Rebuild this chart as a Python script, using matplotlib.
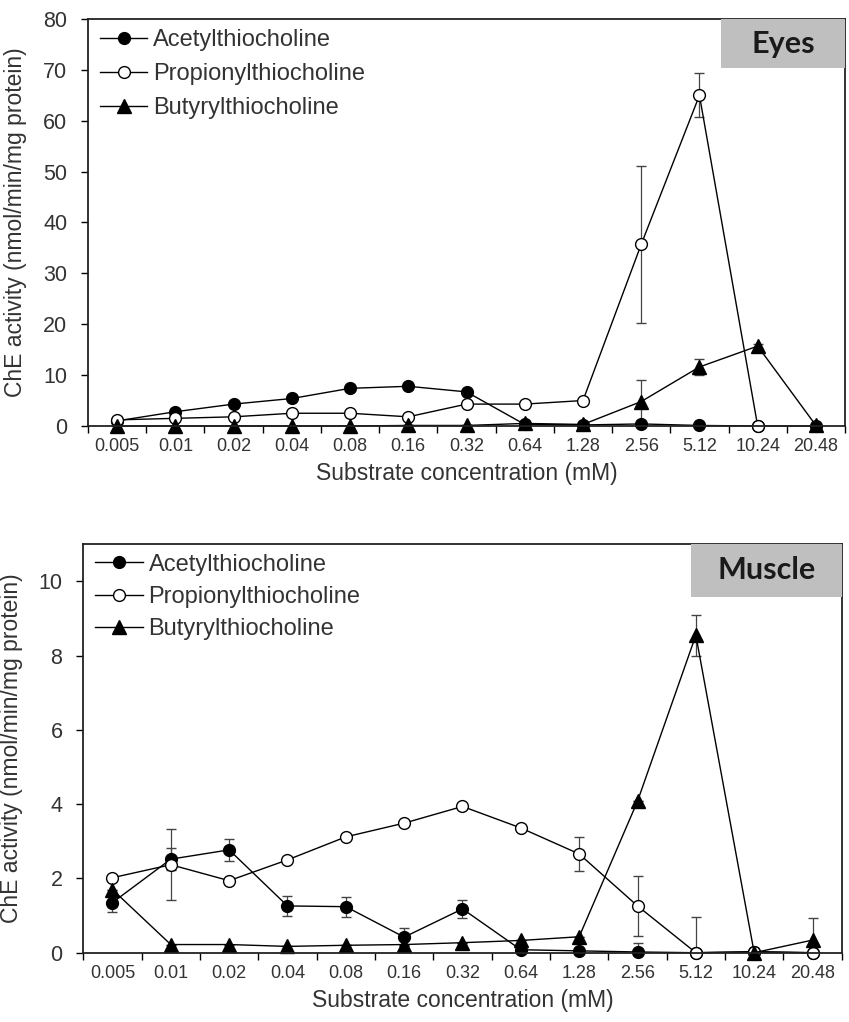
import numpy as np
import matplotlib
matplotlib.use('Agg')
import matplotlib.pyplot as plt
from matplotlib.patches import Rectangle
from matplotlib.lines import Line2D

plt.rcParams['font.family'] = ['Liberation Sans', 'DejaVu Sans']

concentrations = ['0.005', '0.01', '0.02', '0.04', '0.08', '0.16', '0.32',
                  '0.64', '1.28', '2.56', '5.12', '10.24', '20.48']

# Eyes
eyes_acetyl = [1.0, 2.8, 4.3, 5.4, 7.4, 7.8, 6.7, 0.3, 0.2, 0.4, 0.1, 0.0, 0.0]
eyes_acetyl_err = [0, 0, 0, 0, 0, 0, 0, 0, 0, 0, 0, 0, 0]
eyes_propionyl = [1.2, 1.5, 1.8, 2.5, 2.5, 1.8, 4.3, 4.3, 5.0, 35.7, 65.0, 0.0, np.nan]
eyes_propionyl_err = [0, 0, 0, 0, 0, 0, 0, 0, 0, 15.5, 4.3, 0, 0]
eyes_butyryl = [0.0, 0.0, 0.0, 0.0, 0.0, 0.1, 0.1, 0.5, 0.3, 4.8, 11.6, 15.7, 0.1]
eyes_butyryl_err = [0, 0, 0, 0, 0, 0, 0, 0, 0, 4.2, 1.5, 0.5, 0]

# Muscle
muscle_acetyl = [1.35, 2.52, 2.77, 1.26, 1.24, 0.42, 1.18, 0.08, 0.05, 0.02, 0.0, 0.02, 0.0]
muscle_acetyl_err = [0.25, 0.3, 0.3, 0.28, 0.27, 0.25, 0.25, 0, 0, 0.25, 0, 0.1, 0]
muscle_propionyl = [2.02, 2.37, 1.94, 2.50, 3.12, 3.49, 3.94, 3.36, 2.66, 1.26, 0.0, 0.03, 0.0]
muscle_propionyl_err = [0, 0.95, 0, 0, 0, 0, 0, 0, 0.47, 0.8, 0.95, 0, 0]
muscle_butyryl = [1.70, 0.22, 0.22, 0.17, 0.20, 0.22, 0.27, 0.33, 0.43, 4.08, 8.55, 0.0, 0.34]
muscle_butyryl_err = [0, 0, 0, 0, 0, 0, 0, 0, 0, 0, 0.55, 0.1, 0.6]

labels = ['Acetylthiocholine', 'Propionylthiocholine', 'Butyrylthiocholine']
text_color = '#333333'


def draw_panel(ax, acetyl, acetyl_err, prop, prop_err, buty, buty_err,
               ymax, ystep, title, legend_y, legend_sp, box_w, box_h):
    x = np.arange(len(concentrations)) + 0.5
    markers = [('o', 'black', 8.5), ('o', 'white', 8.5), ('^', 'black', 9.5)]
    series = [(acetyl, acetyl_err), (prop, prop_err), (buty, buty_err)]
    handles = []
    for (vals, err), (m, fc, ms), lab in zip(series, markers, labels):
        line, caps, bars = ax.errorbar(x, vals, yerr=err, marker=m, mfc=fc, ms=ms,
                                       color='black', lw=1.0, mew=1.0,
                                       ecolor='#444444', elinewidth=0.9,
                                       capsize=3.8, capthick=0.9)
        line.set_clip_on(False)
        handles.append(Line2D([], [], marker=m, mfc=fc, ms=ms, color='black',
                              lw=1.0, mew=1.0, label=lab))

    ax.set_xlim(0, len(concentrations))
    ax.set_ylim(0, ymax)
    ax.set_xticks(np.arange(len(concentrations) + 1))
    ax.set_xticklabels([])
    ax.set_xticks(x, minor=True)
    ax.set_xticklabels(concentrations, minor=True)
    ax.tick_params(axis='x', which='major', direction='out', length=5, width=1.0)
    ax.tick_params(axis='x', which='minor', length=0, pad=9, labelsize=13,
                   labelcolor=text_color)
    ax.set_yticks(np.arange(0, ymax + 0.01, ystep))
    ax.tick_params(axis='y', direction='out', length=5, width=1.0, pad=10,
                   labelsize=15.5, labelcolor=text_color)
    for s in ax.spines.values():
        s.set_linewidth(1.3)
        s.set_color('#222222')

    ax.set_xlabel('Substrate concentration (mM)', fontsize=16.5, color=text_color,
                  labelpad=5)
    ax.set_ylabel('ChE activity (nmol/min/mg protein)', fontsize=16.5,
                  color=text_color)
    ax.yaxis.set_label_coords(-0.08, 0.5)

    leg = ax.legend(handles=handles, loc='upper left',
                    bbox_to_anchor=(0.016, legend_y),
                    frameon=False, fontsize=17, handlelength=2.0,
                    handletextpad=0.25, labelspacing=legend_sp, borderpad=0,
                    borderaxespad=0)
    for t in leg.get_texts():
        t.set_color(text_color)

    ax.add_patch(Rectangle((1 - box_w, 1 - box_h), box_w, box_h,
                           transform=ax.transAxes, facecolor='#bfbfbf',
                           edgecolor='none', zorder=3))
    ax.text(1 - box_w / 2, 1 - box_h / 2, title, transform=ax.transAxes,
            ha='center', va='center', fontsize=22, fontweight='bold',
            family='Lato', color='#1a1a1a', zorder=4)


fig = plt.figure(figsize=(8.49, 10.22), dpi=100)
ax1 = fig.add_axes([0.1037, 0.5832, 0.8916, 0.3982])
ax2 = fig.add_axes([0.0981, 0.0678, 0.8933, 0.3996])

draw_panel(ax1, eyes_acetyl, eyes_acetyl_err, eyes_propionyl, eyes_propionyl_err,
           eyes_butyryl, eyes_butyryl_err, 80, 10, 'Eyes', 0.975, 0.51,
           0.164, 0.121)
draw_panel(ax2, muscle_acetyl, muscle_acetyl_err, muscle_propionyl,
           muscle_propionyl_err, muscle_butyryl, muscle_butyryl_err, 11, 2,
           'Muscle', 0.977, 0.44, 0.199, 0.128)

fig.savefig('out.png', dpi=100)
